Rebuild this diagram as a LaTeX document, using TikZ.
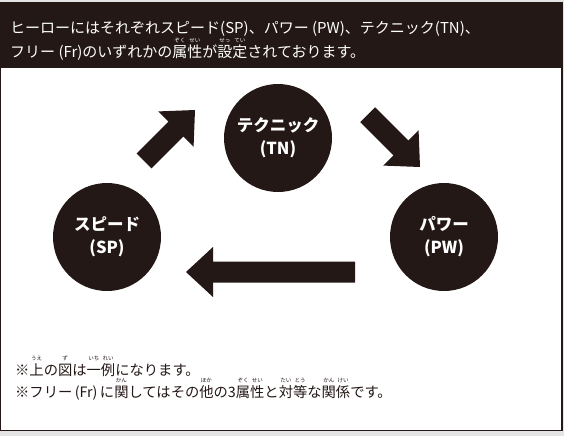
\documentclass[tikz,border=0pt]{standalone}
\usepackage{fontspec}
\setmainfont{Noto Sans CJK JP}
\definecolor{ink}{HTML}{231815}
\definecolor{bggray}{HTML}{E4E4E4}
\newcommand{\furi}[2]{\ooalign{#1\cr\hidewidth\raisebox{0.98em}[0pt][0pt]{\fontsize{5.5}{6}\selectfont #2}\hidewidth\cr}}
\newcommand{\blockarrow}[4]{\fill[ink, shift={(#1,#2)}, rotate=#3] (0,0) -- (-27,25) -- (-27,10.5) -- (-#4,10.5) -- (-#4,-10.5) -- (-27,-10.5) -- (-27,-25) -- cycle;}
\tikzset{
  circ/.style={circle, fill=ink, minimum size=108pt, inner sep=0pt, text=white,
    font=\fontsize{16.5}{23}\selectfont\bfseries, align=center},
  hdr/.style={text=white, inner sep=0pt, font=\fontsize{15}{16}\selectfont},
  note/.style={text=ink, inner sep=0pt, font=\fontsize{14.3}{16}\selectfont}
}
\begin{document}
\begin{tikzpicture}[x=1pt,y=-1pt]
\fill[bggray] (0,0) rectangle (564,436);
\useasboundingbox (0,0) rectangle (564,436);
\draw[ink, line width=1.5pt, fill=white] (0,3) rectangle (562,430.5);
\fill[ink] (0,3) rectangle (562.5,68);
\node[hdr, anchor=base west] (h1) at (10,34) {ヒーローにはそれぞれスピード(SP)、パワー (PW)、テクニック(TN)、};
\node[hdr, anchor=base west] (h2) at (10,57) {フリー (Fr)のいずれかの\furi{属}{ぞく}\furi{性}{せい}が\furi{設}{せっ}\furi{定}{てい}されております。};
\node[circ] (tn) at (278,138) {テクニック\\(TN)};
\node[circ] (sp) at (107,237) {スピード\\(SP)};
\node[circ] (pw) at (444,237) {パワー\\(PW)};
\blockarrow{195}{110}{45}{72}
\blockarrow{420}{167}{-45}{74}
\blockarrow{186}{272}{180}{169}
\node[note, anchor=base west] (n1) at (15,375) {※\furi{上}{うえ}の\furi{図}{ず}は\furi{一}{いち}\furi{例}{れい}になります。};
\node[note, anchor=base west] (n2) at (15,397) {※フリー\thinspace(Fr)\thinspace に\furi{関}{かん}してはその\furi{他}{ほか}の3\furi{属}{ぞく}\furi{性}{せい}と\furi{対}{たい}\furi{等}{とう}な\furi{関}{かん}\furi{係}{けい}です。};
\end{tikzpicture}
\end{document}
